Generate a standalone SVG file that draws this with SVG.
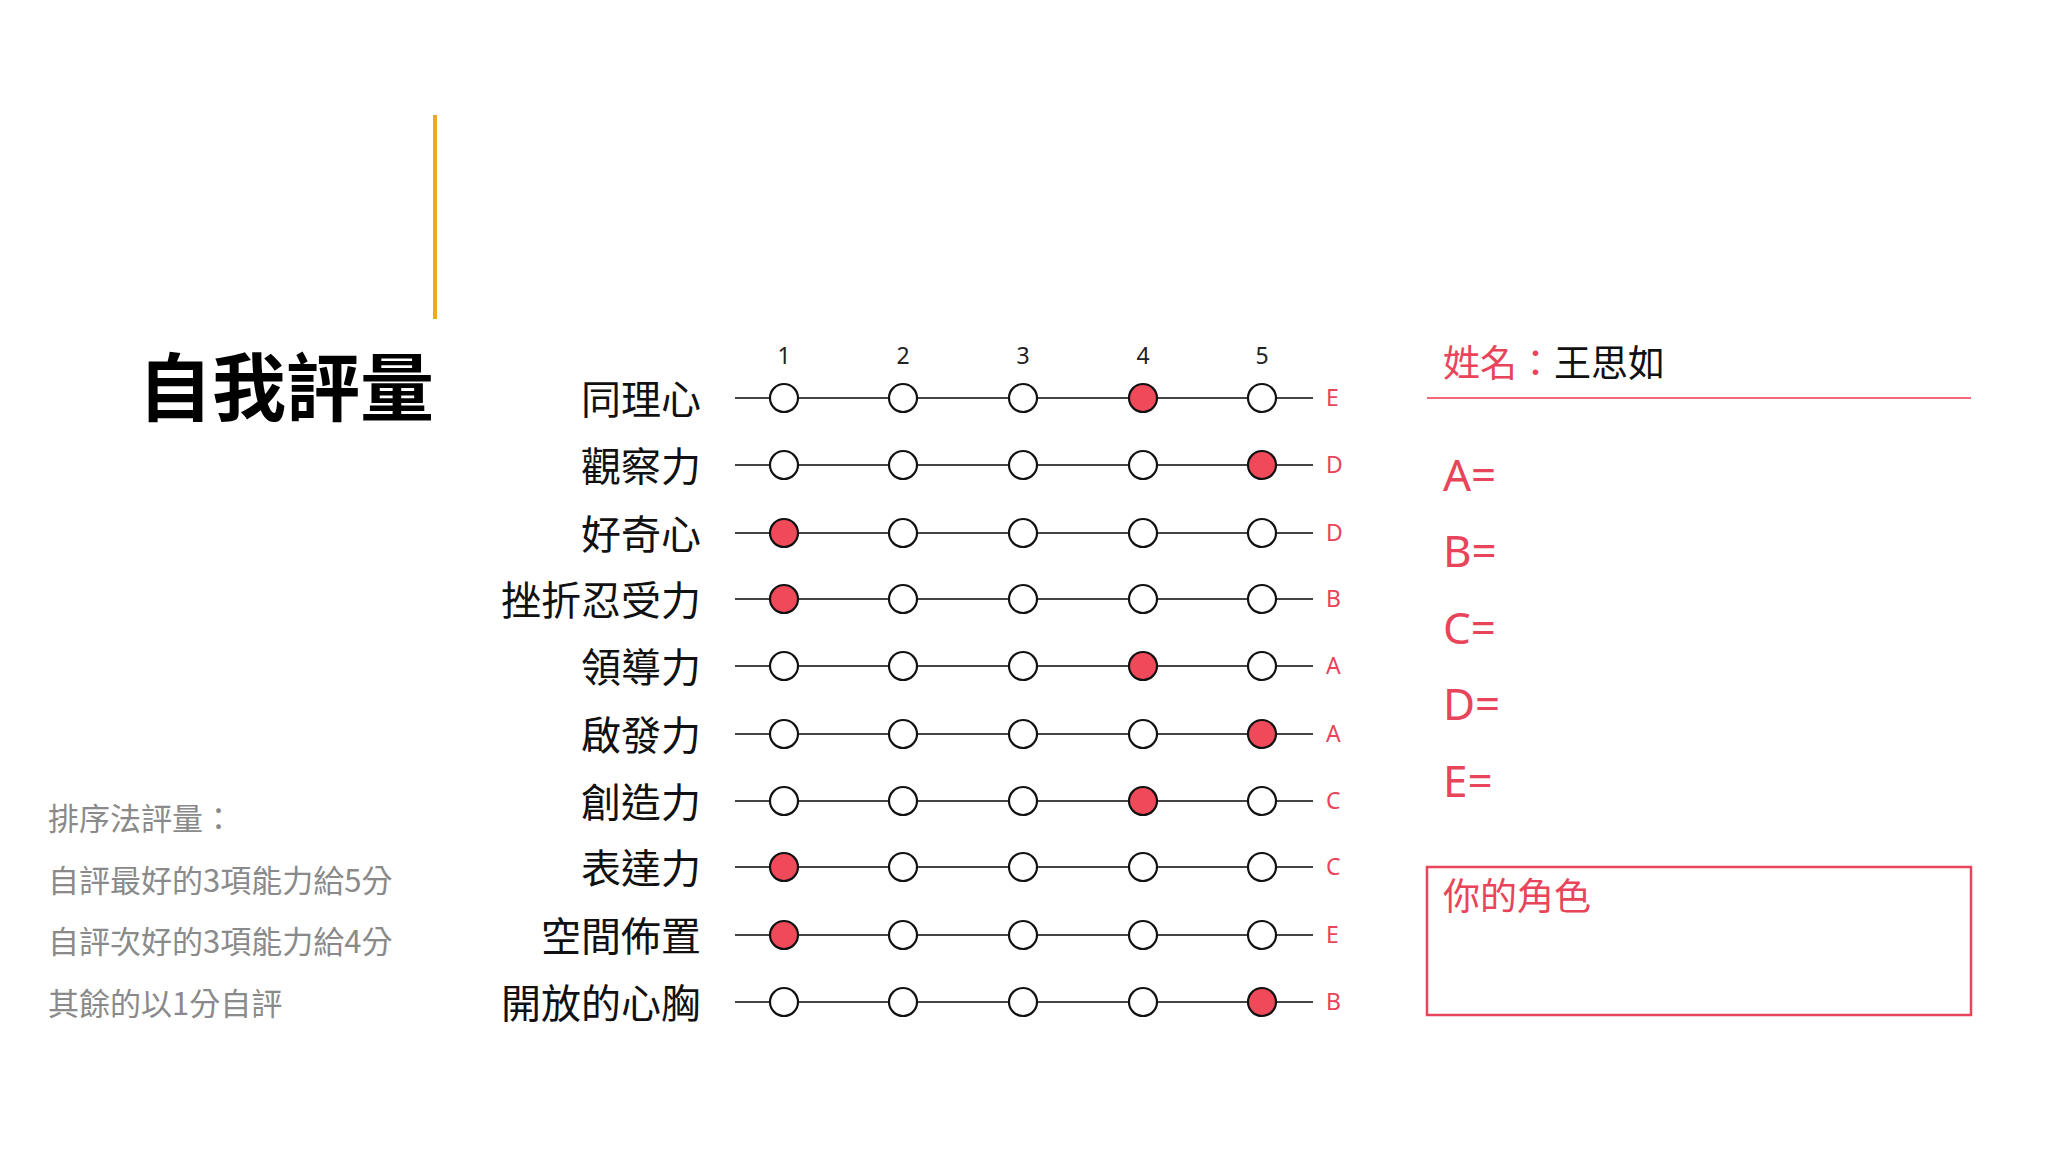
<svg xmlns="http://www.w3.org/2000/svg" width="2048" height="1152" viewBox="0 0 2048 1152">
<style>
.cjk{font-family:"Noto Sans CJK TC","Noto Sans CJK SC",sans-serif}
.lbl{font-size:40px;fill:#111;text-anchor:end}
.num{font-family:"Noto Sans","Open Sans",sans-serif;font-size:23px;fill:#222;text-anchor:middle}
.let{font-family:"Noto Sans","Open Sans",sans-serif;font-size:23px;fill:#e8445a}
.o{fill:#fff;stroke:#111;stroke-width:2.2}
.f{fill:#f04a5a;stroke:#111;stroke-width:2.2}
.ln{stroke:#444;stroke-width:2}
.gray{font-size:31px;fill:#8a8a8a}
.red{fill:#e8445a}
.eq{font-family:"Noto Sans","Open Sans",sans-serif;font-size:44px;fill:#e8445a}
</style>
<rect width="2048" height="1152" fill="#fff"/>
<line x1="435" y1="115" x2="435" y2="319" stroke="#f2a623" stroke-width="4"/>
<text x="138" y="415" class="cjk" font-size="74" font-weight="bold" fill="#000">自我評量</text>
<g id="notes" class="cjk">
<text x="48" y="830" class="gray">排序法評量：</text>
<text x="48" y="892" class="gray">自評最好的3項能力給5分</text>
<text x="48" y="953" class="gray">自評次好的3項能力給4分</text>
<text x="48" y="1015" class="gray">其餘的以1分自評</text>
</g>
<g id="nums">
<text x="784" y="364" class="num">1</text><text x="903" y="364" class="num">2</text><text x="1023" y="364" class="num">3</text><text x="1143" y="364" class="num">4</text><text x="1262" y="364" class="num">5</text>
</g>
<g id="connectors">
<line class="ln" x1="735" y1="398" x2="1313" y2="398"/>
<line class="ln" x1="735" y1="465" x2="1313" y2="465"/>
<line class="ln" x1="735" y1="533" x2="1313" y2="533"/>
<line class="ln" x1="735" y1="599" x2="1313" y2="599"/>
<line class="ln" x1="735" y1="666" x2="1313" y2="666"/>
<line class="ln" x1="735" y1="734" x2="1313" y2="734"/>
<line class="ln" x1="735" y1="801" x2="1313" y2="801"/>
<line class="ln" x1="735" y1="867" x2="1313" y2="867"/>
<line class="ln" x1="735" y1="935" x2="1313" y2="935"/>
<line class="ln" x1="735" y1="1002" x2="1313" y2="1002"/>
</g>
<g id="row1"><text x="701" y="414" class="cjk lbl">同理心</text><circle class="o" cx="784" cy="398" r="14"/><circle class="o" cx="903" cy="398" r="14"/><circle class="o" cx="1023" cy="398" r="14"/><circle class="f" cx="1143" cy="398" r="14"/><circle class="o" cx="1262" cy="398" r="14"/><text x="1326" y="406" class="let">E</text></g>
<g id="row2"><text x="701" y="481" class="cjk lbl">觀察力</text><circle class="o" cx="784" cy="465" r="14"/><circle class="o" cx="903" cy="465" r="14"/><circle class="o" cx="1023" cy="465" r="14"/><circle class="o" cx="1143" cy="465" r="14"/><circle class="f" cx="1262" cy="465" r="14"/><text x="1326" y="473" class="let">D</text></g>
<g id="row3"><text x="701" y="549" class="cjk lbl">好奇心</text><circle class="f" cx="784" cy="533" r="14"/><circle class="o" cx="903" cy="533" r="14"/><circle class="o" cx="1023" cy="533" r="14"/><circle class="o" cx="1143" cy="533" r="14"/><circle class="o" cx="1262" cy="533" r="14"/><text x="1326" y="541" class="let">D</text></g>
<g id="row4"><text x="701" y="615" class="cjk lbl">挫折忍受力</text><circle class="f" cx="784" cy="599" r="14"/><circle class="o" cx="903" cy="599" r="14"/><circle class="o" cx="1023" cy="599" r="14"/><circle class="o" cx="1143" cy="599" r="14"/><circle class="o" cx="1262" cy="599" r="14"/><text x="1326" y="607" class="let">B</text></g>
<g id="row5"><text x="701" y="682" class="cjk lbl">領導力</text><circle class="o" cx="784" cy="666" r="14"/><circle class="o" cx="903" cy="666" r="14"/><circle class="o" cx="1023" cy="666" r="14"/><circle class="f" cx="1143" cy="666" r="14"/><circle class="o" cx="1262" cy="666" r="14"/><text x="1326" y="674" class="let">A</text></g>
<g id="row6"><text x="701" y="750" class="cjk lbl">啟發力</text><circle class="o" cx="784" cy="734" r="14"/><circle class="o" cx="903" cy="734" r="14"/><circle class="o" cx="1023" cy="734" r="14"/><circle class="o" cx="1143" cy="734" r="14"/><circle class="f" cx="1262" cy="734" r="14"/><text x="1326" y="742" class="let">A</text></g>
<g id="row7"><text x="701" y="817" class="cjk lbl">創造力</text><circle class="o" cx="784" cy="801" r="14"/><circle class="o" cx="903" cy="801" r="14"/><circle class="o" cx="1023" cy="801" r="14"/><circle class="f" cx="1143" cy="801" r="14"/><circle class="o" cx="1262" cy="801" r="14"/><text x="1326" y="809" class="let">C</text></g>
<g id="row8"><text x="701" y="883" class="cjk lbl">表達力</text><circle class="f" cx="784" cy="867" r="14"/><circle class="o" cx="903" cy="867" r="14"/><circle class="o" cx="1023" cy="867" r="14"/><circle class="o" cx="1143" cy="867" r="14"/><circle class="o" cx="1262" cy="867" r="14"/><text x="1326" y="875" class="let">C</text></g>
<g id="row9"><text x="701" y="951" class="cjk lbl">空間佈置</text><circle class="f" cx="784" cy="935" r="14"/><circle class="o" cx="903" cy="935" r="14"/><circle class="o" cx="1023" cy="935" r="14"/><circle class="o" cx="1143" cy="935" r="14"/><circle class="o" cx="1262" cy="935" r="14"/><text x="1326" y="943" class="let">E</text></g>
<g id="row10"><text x="701" y="1018" class="cjk lbl">開放的心胸</text><circle class="o" cx="784" cy="1002" r="14"/><circle class="o" cx="903" cy="1002" r="14"/><circle class="o" cx="1023" cy="1002" r="14"/><circle class="o" cx="1143" cy="1002" r="14"/><circle class="f" cx="1262" cy="1002" r="14"/><text x="1326" y="1010" class="let">B</text></g>
<g id="name">
<text x="1443" y="377" class="cjk" font-size="37"><tspan fill="#e8445a">姓名：</tspan><tspan fill="#111">王思如</tspan></text>
<line x1="1427" y1="398" x2="1971" y2="398" stroke="#f06a7a" stroke-width="2"/>
</g>
<g id="scores">
<text x="1443" y="491" class="eq">A=</text>
<text x="1443" y="567" class="eq">B=</text>
<text x="1443" y="644" class="eq">C=</text>
<text x="1443" y="720" class="eq">D=</text>
<text x="1443" y="797" class="eq">E=</text>
</g>
<g id="role">
<rect x="1427" y="867" width="544" height="148" fill="none" stroke="#e8445a" stroke-width="2.5"/>
<text x="1443" y="910" class="cjk red" font-size="37">你的角色</text>
</g>
</svg>
